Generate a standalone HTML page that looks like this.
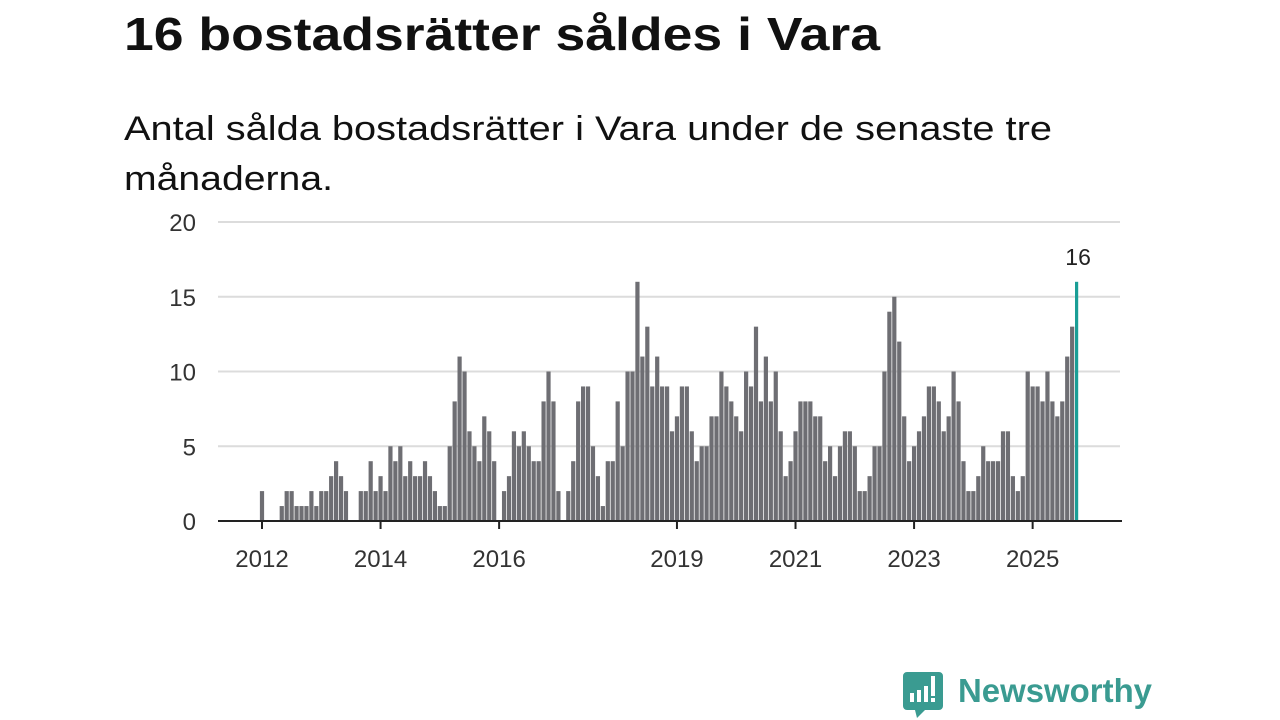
<!DOCTYPE html>
<html><head><meta charset="utf-8">
<style>
html,body{margin:0;padding:0;background:#fff;}
svg{display:block;font-family:"Liberation Sans",sans-serif;}
</style></head>
<body>
<svg id="chart" width="1280" height="720" viewBox="0 0 1280 720">
  <text x="124" y="50" font-size="46" font-weight="bold" fill="#111" textLength="756" lengthAdjust="spacingAndGlyphs">16 bostadsrätter såldes i Vara</text>
  <text x="124" y="140" font-size="34" fill="#111" textLength="928" lengthAdjust="spacingAndGlyphs">Antal sålda bostadsrätter i Vara under de senaste tre</text>
  <text x="124" y="190" font-size="34" fill="#111" textLength="209" lengthAdjust="spacingAndGlyphs">månaderna.</text>
  <g id="grid"></g>
  <g id="yaxis"></g>
  <g id="bars"></g>
  <g id="xaxis"></g>
  <g id="logo">
    <path d="M907 672 h32 a4 4 0 0 1 4 4 v30 a4 4 0 0 1 -4 4 h-14 l-8 8 l-2 -8 h-8 a4 4 0 0 1 -4 -4 v-30 a4 4 0 0 1 4 -4z" fill="#3a9b91"/>
    <rect x="910" y="693" width="4" height="9" fill="#fff"/>
    <rect x="917" y="690" width="4" height="12" fill="#fff"/>
    <rect x="924" y="686" width="4" height="16" fill="#fff"/>
    <rect x="931" y="676" width="4" height="20" fill="#fff"/>
    <rect x="931" y="698" width="4" height="4" fill="#fff"/>
    <text x="958" y="702" font-size="33" font-weight="bold" fill="#3a9b91" textLength="194" lengthAdjust="spacingAndGlyphs">Newsworthy</text>
  </g>
</svg>
<script>
const values = [
 2,0,0,0,1,2,2,1,1,1,2,1,
 2,2,3,4,3,2,0,0,2,2,4,2,
 3,2,5,4,5,3,4,3,3,4,3,2,
 1,1,5,8,11,10,6,5,4,7,6,4,
 0,2,3,6,5,6,5,4,4,8,10,8,
 2,0,2,4,8,9,9,5,3,1,4,4,
 8,5,10,10,16,11,13,9,11,9,9,6,
 7,9,9,6,4,5,5,7,7,10,9,8,
 7,6,10,9,13,8,11,8,10,6,3,4,
 6,8,8,8,7,7,4,5,3,5,6,6,
 5,2,2,3,5,5,10,14,15,12,7,4,
 5,6,7,9,9,8,6,7,10,8,4,2,
 2,3,5,4,4,4,6,6,3,2,3,10,
 9,9,8,10,8,7,8,11,13,16
];
const yTicks = [0,5,10,15,20];
const xTickYears = [2012,2014,2016,2019,2021,2023,2025];
const startYear = 2012;

const NS="http://www.w3.org/2000/svg";
const x = m => 262 + m*4.94;
const y = v => 521 - v*14.95;
function mk(tag, attrs, parent){const e=document.createElementNS(NS,tag);for(const k in attrs)e.setAttribute(k,attrs[k]);parent.appendChild(e);return e;}
const grid=document.getElementById('grid'), ya=document.getElementById('yaxis'), bars=document.getElementById('bars'), xa=document.getElementById('xaxis');

yTicks.forEach(t=>{
  if(t>0){const l=mk('line',{x1:218,x2:1120,y1:y(t),y2:y(t),stroke:'#dcdcdc','stroke-width':2},grid);
  
  }
  const tx=mk('text',{x:196,y:y(t)+9,'font-size':24,'text-anchor':'end',fill:'#333'},ya);
  tx.textContent=t;
  
  
});

values.forEach((v,i)=>{
  if(v<=0) return;
  const last=i===values.length-1;
  const r=mk('rect',{x:x(i)-2.1,y:y(v),width:last?3.2:4.2,height:y(0)-y(v),fill:last?'#1a9e96':'#6e6e73'},bars);
  
  
  if(last){
    const lb=mk('text',{x:x(i)+1,y:y(v)-17,'font-size':23,'text-anchor':'middle',fill:'#222'},bars);
    lb.textContent=v;
    
    
  }
});

const ax=mk('line',{x1:218,x2:1122,y1:521,y2:521,stroke:'#222','stroke-width':2},xa);


xTickYears.forEach(yr=>{
  const m=(yr-startYear)*12;
  const t=mk('line',{x1:x(m),x2:x(m),y1:521,y2:529,stroke:'#222','stroke-width':2},xa);
  
  
  const tx=mk('text',{x:x(m),y:567,'font-size':24,'text-anchor':'middle',fill:'#333'},xa);
  tx.textContent=yr;
  
  
});
</script>
</body></html>
